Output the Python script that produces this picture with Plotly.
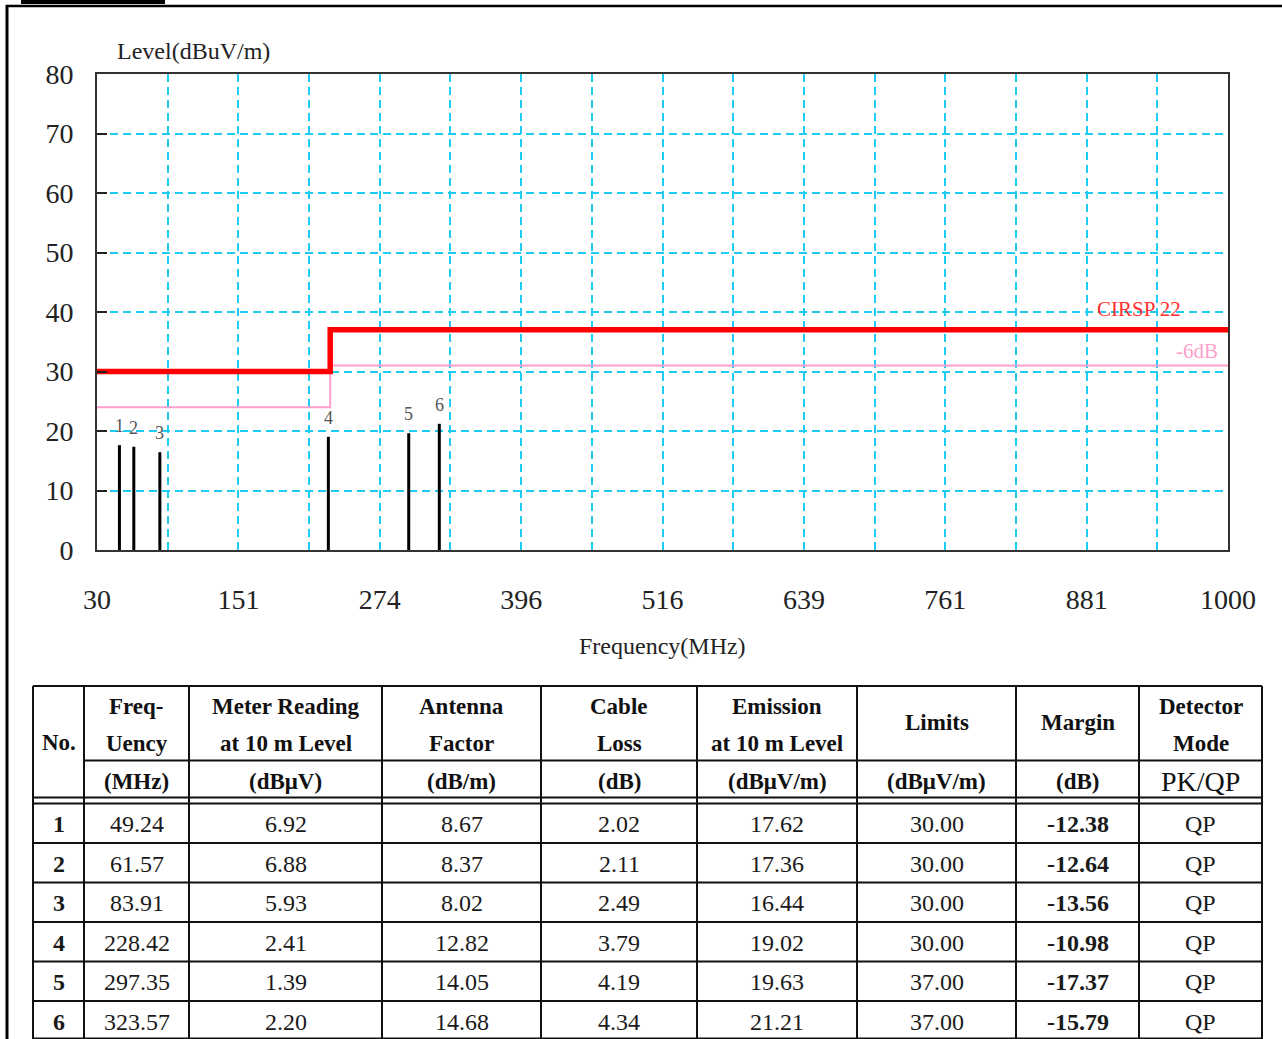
import numpy as np
import plotly.graph_objects as go

# ---------------- data ----------------
nos = [1, 2, 3, 4, 5, 6]
freqs = [49.24, 61.57, 83.91, 228.42, 297.35, 323.57]
meter = [6.92, 6.88, 5.93, 2.41, 1.39, 2.20]
antenna = [8.67, 8.37, 8.02, 12.82, 14.05, 14.68]
cable = [2.02, 2.11, 2.49, 3.79, 4.19, 4.34]
emission = [17.62, 17.36, 16.44, 19.02, 19.63, 21.21]
limits = [30.00, 30.00, 30.00, 30.00, 37.00, 37.00]
margins = [-12.38, -12.64, -13.56, -10.98, -17.37, -15.79]
detector = ["QP", "QP", "QP", "QP", "QP", "QP"]

limit_freq = [30, 230, 1000]
limit_level = [30, 37, 37]
margin_offset = 6

x_tick_labels = ["30", "151", "274", "396", "516", "639", "761", "881", "1000"]
y_ticks = [0, 10, 20, 30, 40, 50, 60, 70, 80]

# ---------------- geometry helpers ----------------
W, H = 1282, 1039
PL, PR, PT, PB = 97, 1228, 74, 550  # plot box in pixels


def px(x):
    return (x - PL) / (PR - PL)


def py(y):
    return (PB - y) / (PB - PT)


SERIF = "Liberation Serif"
GRID = "#1ecbf2"

fig = go.Figure()

# emission bars (vertical lines)
bx, by = [], []
for f, e in zip(freqs, emission):
    bx += [f, f, None]
    by += [0, e, None]
fig.add_trace(go.Scatter(x=bx, y=by, mode="lines",
                         line=dict(color="black", width=3),
                         hoverinfo="skip", showlegend=False))

# -6dB line
fig.add_trace(go.Scatter(x=limit_freq, y=[v - margin_offset for v in limit_level],
                         mode="lines", line=dict(color="#ff9fcc", width=2, shape="hv"),
                         showlegend=False))
# limit line
fig.add_trace(go.Scatter(x=limit_freq, y=limit_level, mode="lines",
                         line=dict(color="#ff0000", width=5.5, shape="hv"),
                         showlegend=False))

annotations = []
# bar number labels
for n, f, e in zip(nos, freqs, emission):
    annotations.append(dict(x=f, y=e, text=str(n), showarrow=False,
                            yshift=19, yanchor="middle",
                            font=dict(family=SERIF, size=18, color="#555")))

annotations.append(dict(x=961, y=40.5, text="CIRSP 22", showarrow=False,
                        xanchor="right", yanchor="middle",
                        font=dict(family=SERIF, size=21, color="#ff3030")))
annotations.append(dict(x=993, y=33.4, text="-6dB", showarrow=False,
                        xanchor="right", yanchor="middle",
                        font=dict(family=SERIF, size=21, color="#ff9fcc")))

# axis titles
annotations.append(dict(xref="paper", yref="paper", x=px(115), y=py(51),
                        text="Level(dBuV/m)", showarrow=False, xanchor="left",
                        yanchor="middle", font=dict(family=SERIF, size=24, color="#222")))
annotations.append(dict(xref="paper", yref="paper", x=px(662), y=py(646),
                        text="Frequency(MHz)", showarrow=False, xanchor="center",
                        yanchor="middle", font=dict(family=SERIF, size=24, color="#222")))

shapes = []


def hline(x0, x1, y, w=2, c="#111"):
    shapes.append(dict(type="line", xref="paper", yref="paper",
                       x0=px(x0), x1=px(x1), y0=py(y), y1=py(y),
                       line=dict(color=c, width=w)))


def vline(x, y0, y1, w=2, c="#111"):
    shapes.append(dict(type="line", xref="paper", yref="paper",
                       x0=px(x), x1=px(x), y0=py(y0), y1=py(y1),
                       line=dict(color=c, width=w)))


# page frame
hline(21, 165, 2, w=4, c="black")
hline(6, 1282, 6, w=2.5, c="black")
vline(7, 5, 1039, w=3, c="black")

# ---------------- table ----------------
cols = [33, 84, 189, 382, 541, 697, 857, 1016, 1139, 1262]
t_top, t_mid, t_d1, t_d2 = 686, 760.5, 797.5, 803.5
row_h = 39.5
row_lines = [t_d2 + row_h * (i + 1) for i in range(6)]

hline(cols[0], cols[-1], t_top)
hline(cols[1], cols[-1], t_mid)
hline(cols[0], cols[-1], t_d1)
hline(cols[0], cols[-1], t_d2)
for yl in row_lines:
    hline(cols[0], cols[-1], min(yl, 1038.5))
for c in cols:
    vline(c, t_top, 1039)

centers = [(cols[i] + cols[i + 1]) / 2 for i in range(len(cols) - 1)]

header = [
    ["No."],
    ["Freq-", "Uency", "(MHz)"],
    ["Meter Reading", "at 10 m Level", "(dBμV)"],
    ["Antenna", "Factor", "(dB/m)"],
    ["Cable", "Loss", "(dB)"],
    ["Emission", "at 10 m Level", "(dBμV/m)"],
    ["Limits", "(dBμV/m)"],
    ["Margin", "(dB)"],
    ["Detector", "Mode", "PK/QP"],
]
hy3 = [706, 743, 781]
for ci, lines in enumerate(header):
    if len(lines) == 1:
        ys = [742]
    elif len(lines) == 2:
        ys = [722, 781]
    else:
        ys = hy3
    for txt, yy in zip(lines, ys):
        if txt == "PK/QP":
            fnt = dict(family=SERIF, size=28, color="#111")
            t = txt
        else:
            fnt = dict(family=SERIF, size=23, color="#111")
            t = "<b>" + txt + "</b>"
        annotations.append(dict(xref="paper", yref="paper", x=px(centers[ci]), y=py(yy),
                                text=t, showarrow=False, xanchor="center",
                                yanchor="middle", font=fnt))

table_cols = [
    [str(n) for n in nos],
    [f"{v:.2f}" for v in freqs],
    [f"{v:.2f}" for v in meter],
    [f"{v:.2f}" for v in antenna],
    [f"{v:.2f}" for v in cable],
    [f"{v:.2f}" for v in emission],
    [f"{v:.2f}" for v in limits],
    [f"{v:.2f}" for v in margins],
    detector,
]
bold_cols = {0, 7}
for ci, vals in enumerate(table_cols):
    for ri, v in enumerate(vals):
        yc = t_d2 + row_h * (ri + 0.5) + 1
        t = "<b>" + v + "</b>" if ci in bold_cols else v
        annotations.append(dict(xref="paper", yref="paper", x=px(centers[ci]), y=py(yc),
                                text=t, showarrow=False, xanchor="center",
                                yanchor="middle",
                                font=dict(family=SERIF, size=24, color="#1a1a1a")))

# ---------------- axes ----------------
grid_x = list(np.linspace(30, 1000, 17))
grid_text = []
k = 0
for i in range(17):
    if i % 2 == 0:
        grid_text.append(x_tick_labels[k])
        k += 1
    else:
        grid_text.append("")

fig.update_xaxes(range=[30, 1000], tickvals=grid_x, ticktext=grid_text,
                 showgrid=True, gridcolor=GRID, gridwidth=1.5, griddash="8px,5px",
                 showline=True, linecolor="#333", linewidth=2, mirror=True,
                 ticks="", zeroline=False, ticklabelstandoff=23,
                 tickfont=dict(family=SERIF, size=28, color="#222"))
fig.update_yaxes(range=[0, 80], tickvals=y_ticks,
                 showgrid=True, gridcolor=GRID, gridwidth=1.5, griddash="8px,5px",
                 showline=True, linecolor="#333", linewidth=2, mirror=True,
                 ticks="inside", ticklen=10, tickwidth=2, tickcolor="#222",
                 zeroline=False, ticklabelstandoff=16,
                 tickfont=dict(family=SERIF, size=28, color="#222"))

fig.update_layout(width=W, height=H,
                  margin=dict(l=PL, r=W - PR, t=PT, b=H - PB, pad=0),
                  paper_bgcolor="white", plot_bgcolor="white",
                  showlegend=False, shapes=shapes, annotations=annotations)

fig.write_html("out.html", config={"displayModeBar": False},
               post_script="document.body.style.margin='0';document.body.style.overflow='hidden';")
